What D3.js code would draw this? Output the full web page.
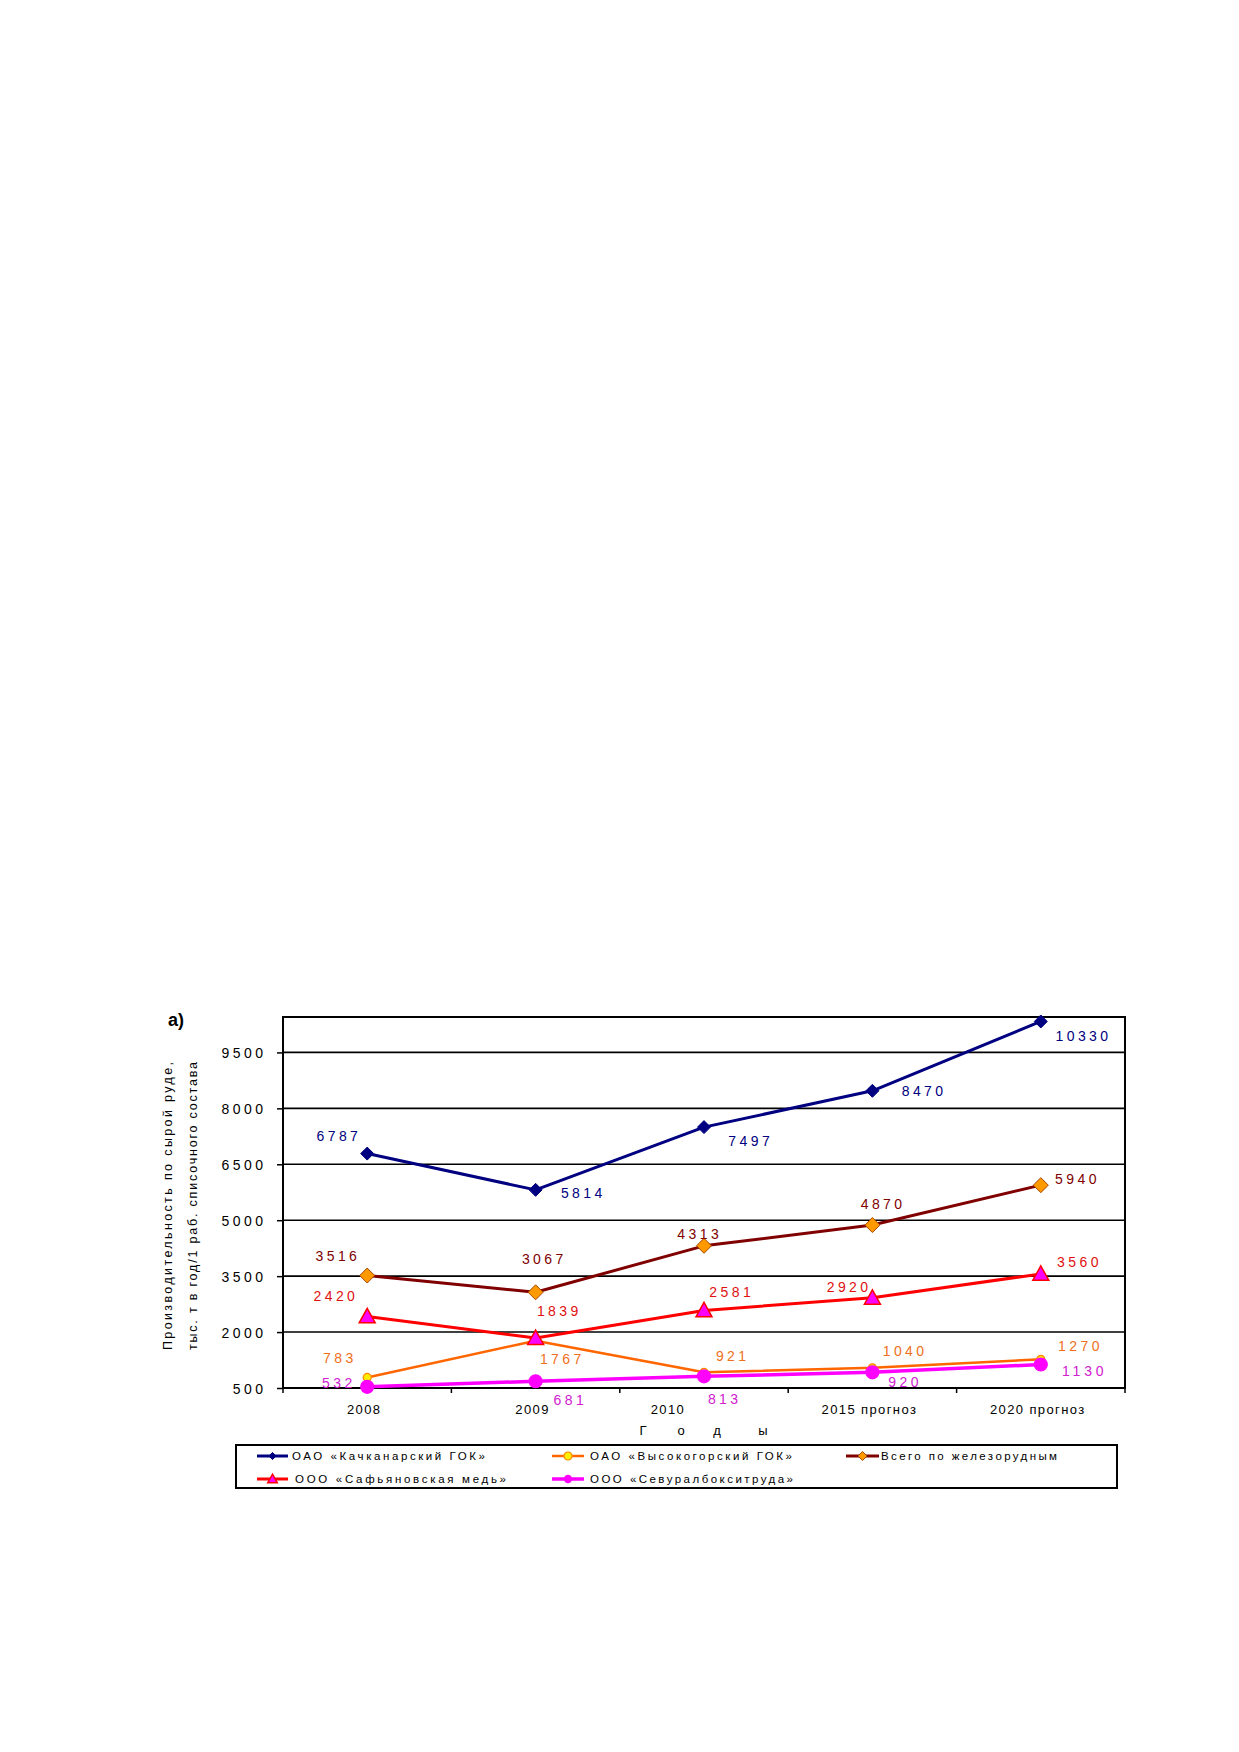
<!DOCTYPE html>
<html>
<head>
<meta charset="utf-8">
<script src="https://cdn.jsdelivr.net/npm/d3@7"></script>
<style>
  html, body { margin: 0; padding: 0; background: #fff; }
  svg { display: block; }
  text { font-family: "Liberation Sans", Arial, sans-serif; }
</style>
</head>
<body>
<svg id="chart" width="1239" height="1752"></svg>
<script>
// ---- data ----
const categories = ["2008", "2009", "2010", "2015 прогноз", "2020 прогноз"];
const kachkanar = [6787, 5814, 7497, 8470, 10330];
const vysokogorsky = [783, 1767, 921, 1040, 1270];
const totalIron = [3516, 3067, 4313, 4870, 5940];
const safyanov = [2420, 1839, 2581, 2920, 3560];
const sevural = [532, 681, 813, 920, 1130];
const seriesNames = [
  "ОАО «Качканарский ГОК»",
  "ОАО «Высокогорский ГОК»",
  "Всего по железорудным",
  "ООО «Сафьяновская медь»",
  "ООО «Севуралбокситруда»"
];
const yTicks = [500, 2000, 3500, 5000, 6500, 8000, 9500];
const xTitle = ["Г", "о", "д", "ы"];
const yTitle = ["Производительность по сырой руде,", "тыс. т в год/1 раб. списочного состава"];
const panelLabel = "а)";

// ---- layout (label offsets relative to points, in px) ----
const labelOffsets = [
  [[-30, -18], [46, 3], [45, 14], [50, 0], [41, 14]],
  [[-29, -19], [25, 18], [27, -16], [31, -17], [38, -13]],
  [[-31, -20], [7, -33], [-6, -12], [9, -21], [35, -6]],
  [[-33, -20], [22, -27], [26, -18], [-25, -11], [37, -12]],
  [[-30, -4], [33, 19], [19, 23], [31, 10], [42, 6]]
];
const xLabelShift = [-3, -3, -36, -3, -3];

const styles = [
  { line: "#000080", width: 3, label: "#000080", marker: "diamond", size: 13, fill: "#000080", stroke: "#000080" },
  { line: "#FF6600", width: 2.5, label: "#F07020", marker: "circle", size: 4, fill: "#FFEE00", stroke: "#FF8800" },
  { line: "#800000", width: 3, label: "#800000", marker: "diamond", size: 15, fill: "#FF9900", stroke: "#AA4400" },
  { line: "#FF0000", width: 3, label: "#E01010", marker: "triangle", size: 16, fill: "#FF00FF", stroke: "#FF0000" },
  { line: "#FF00FF", width: 3.5, label: "#D020D0", marker: "circle", size: 6.5, fill: "#FF00FF", stroke: "#FF00FF" }
];

const allSeries = [kachkanar, vysokogorsky, totalIron, safyanov, sevural];

// ---- chart ----
const svg = d3.select("#chart");
const plot = { left: 283, right: 1125, top: 1017, bottom: 1388 };

const x = d3.scaleBand().domain(categories).range([plot.left, plot.right]);
const xc = c => x(c) + x.bandwidth() / 2;
const y = d3.scaleLinear().domain([500, 10450]).range([plot.bottom, plot.top]);

const numLen = n => n * 7.8 + (n - 1) * 3.4;

// gridlines
svg.append("g").selectAll("line").data(yTicks.filter(v => v > 500)).join("line")
  .attr("x1", plot.left).attr("x2", plot.right)
  .attr("y1", d => y(d)).attr("y2", d => y(d))
  .attr("stroke", "#000").attr("stroke-width", 1.6);

// y axis
const yAxis = d3.axisLeft(y).tickValues(yTicks).tickSize(6).tickPadding(14).tickFormat(d3.format("d"));
const gy = svg.append("g").attr("transform", `translate(${plot.left},0)`).call(yAxis);
gy.select(".domain").remove();
gy.selectAll(".tick line").attr("stroke", "#000").attr("stroke-width", 1.5);
gy.selectAll(".tick text")
  .attr("font-size", 14).attr("fill", "#000")
  .attr("font-family", "Liberation Sans, Arial, sans-serif")
  .attr("textLength", d => numLen(String(d).length)).attr("lengthAdjust", "spacing")
  .attr("x", -20).attr("dy", "0.36em");

// x axis ticks at band boundaries
const boundaries = categories.map(c => x(c)).concat([plot.right]);
svg.append("g").selectAll("line").data(boundaries).join("line")
  .attr("x1", d => d).attr("x2", d => d)
  .attr("y1", plot.bottom).attr("y2", plot.bottom + 5)
  .attr("stroke", "#000").attr("stroke-width", 1.5);

svg.append("g").selectAll("text").data(categories).join("text")
  .attr("x", (d, i) => xc(d) + xLabelShift[i]).attr("y", 1414)
  .attr("text-anchor", "middle").attr("font-size", 13)
  .attr("letter-spacing", 1.4)
  .text(d => d);

// frame
svg.append("rect")
  .attr("x", plot.left).attr("y", plot.top)
  .attr("width", plot.right - plot.left).attr("height", plot.bottom - plot.top)
  .attr("fill", "none").attr("stroke", "#000").attr("stroke-width", 2);

// x title "Г о д ы"
const xTitleX = [643, 681, 717, 763];
svg.append("g").selectAll("text").data(xTitle).join("text")
  .attr("x", (d, i) => xTitleX[i]).attr("y", 1435)
  .attr("text-anchor", "middle").attr("font-size", 13)
  .text(d => d);

// y title
const ytg = svg.append("g");
ytg.selectAll("text").data(yTitle).join("text")
  .attr("transform", (d, i) => `translate(${i === 0 ? 172 : 197},1206) rotate(-90)`)
  .attr("text-anchor", "middle").attr("font-size", 12.5)
  .attr("textLength", 288).attr("lengthAdjust", "spacing")
  .text(d => d);

// panel label
svg.append("text").attr("x", 168).attr("y", 1026)
  .attr("font-size", 18).attr("font-weight", "bold").text(panelLabel);

// marker drawing
function drawMarker(g, type, size, fill, stroke) {
  if (type === "diamond") {
    const h = size / 2;
    g.append("path").attr("d", `M0,${-h}L${h},0L0,${h}L${-h},0Z`)
      .attr("fill", fill).attr("stroke", stroke).attr("stroke-width", 1);
  } else if (type === "triangle") {
    const h = size / 2;
    g.append("path").attr("d", `M0,${-h}L${h},${h * 0.8}L${-h},${h * 0.8}Z`)
      .attr("fill", fill).attr("stroke", stroke).attr("stroke-width", 1.5);
  } else {
    g.append("circle").attr("r", size).attr("fill", fill).attr("stroke", stroke).attr("stroke-width", 1.2);
  }
}

const line = d3.line().x((d, i) => xc(categories[i])).y(d => y(d));

allSeries.forEach((vals, si) => {
  const st = styles[si];
  const g = svg.append("g");
  g.append("path").datum(vals).attr("d", line)
    .attr("fill", "none").attr("stroke", st.line).attr("stroke-width", st.width)
    .attr("stroke-linejoin", "round");
  vals.forEach((v, i) => {
    const mg = g.append("g").attr("transform", `translate(${xc(categories[i])},${y(v)})`);
    drawMarker(mg, st.marker, st.size, st.fill, st.stroke);
  });
});

// data labels (on top)
allSeries.forEach((vals, si) => {
  const st = styles[si];
  svg.append("g").selectAll("text").data(vals).join("text")
    .attr("x", (d, i) => xc(categories[i]) + labelOffsets[si][i][0])
    .attr("y", (d, i) => y(d) + labelOffsets[si][i][1])
    .attr("dy", "0.36em")
    .attr("text-anchor", "middle").attr("font-size", 14)
    .attr("fill", st.label)
    .attr("textLength", d => numLen(String(d).length))
    .attr("lengthAdjust", "spacing")
    .text(d => d);
});

// legend
const lg = svg.append("g");
lg.append("rect").attr("x", 236).attr("y", 1445).attr("width", 881).attr("height", 43)
  .attr("fill", "#fff").attr("stroke", "#000").attr("stroke-width", 2);
const legendPos = [
  { x1: 257, x2: 288, tx: 292, y: 1456, len: 193 },
  { x1: 552, x2: 584, tx: 590, y: 1456, len: 202 },
  { x1: 846, x2: 879, tx: 881, y: 1456, len: 176 },
  { x1: 257, x2: 288, tx: 295, y: 1479, len: 211 },
  { x1: 552, x2: 584, tx: 590, y: 1479, len: 203 }
];
const legendMarkerScale = [0.55, 1, 0.6, 0.6, 0.55];
seriesNames.forEach((name, i) => {
  const p = legendPos[i], st = styles[i];
  lg.append("line").attr("x1", p.x1).attr("x2", p.x2).attr("y1", p.y).attr("y2", p.y)
    .attr("stroke", st.line).attr("stroke-width", st.width);
  const mg = lg.append("g").attr("transform", `translate(${(p.x1 + p.x2) / 2},${p.y})`);
  drawMarker(mg, st.marker, st.size * legendMarkerScale[i], st.fill, st.stroke);
  lg.append("text").attr("x", p.tx).attr("y", p.y).attr("dy", "0.36em")
    .attr("font-size", 11.5).attr("textLength", p.len).attr("lengthAdjust", "spacing")
    .text(name);
});
</script>
</body>
</html>
